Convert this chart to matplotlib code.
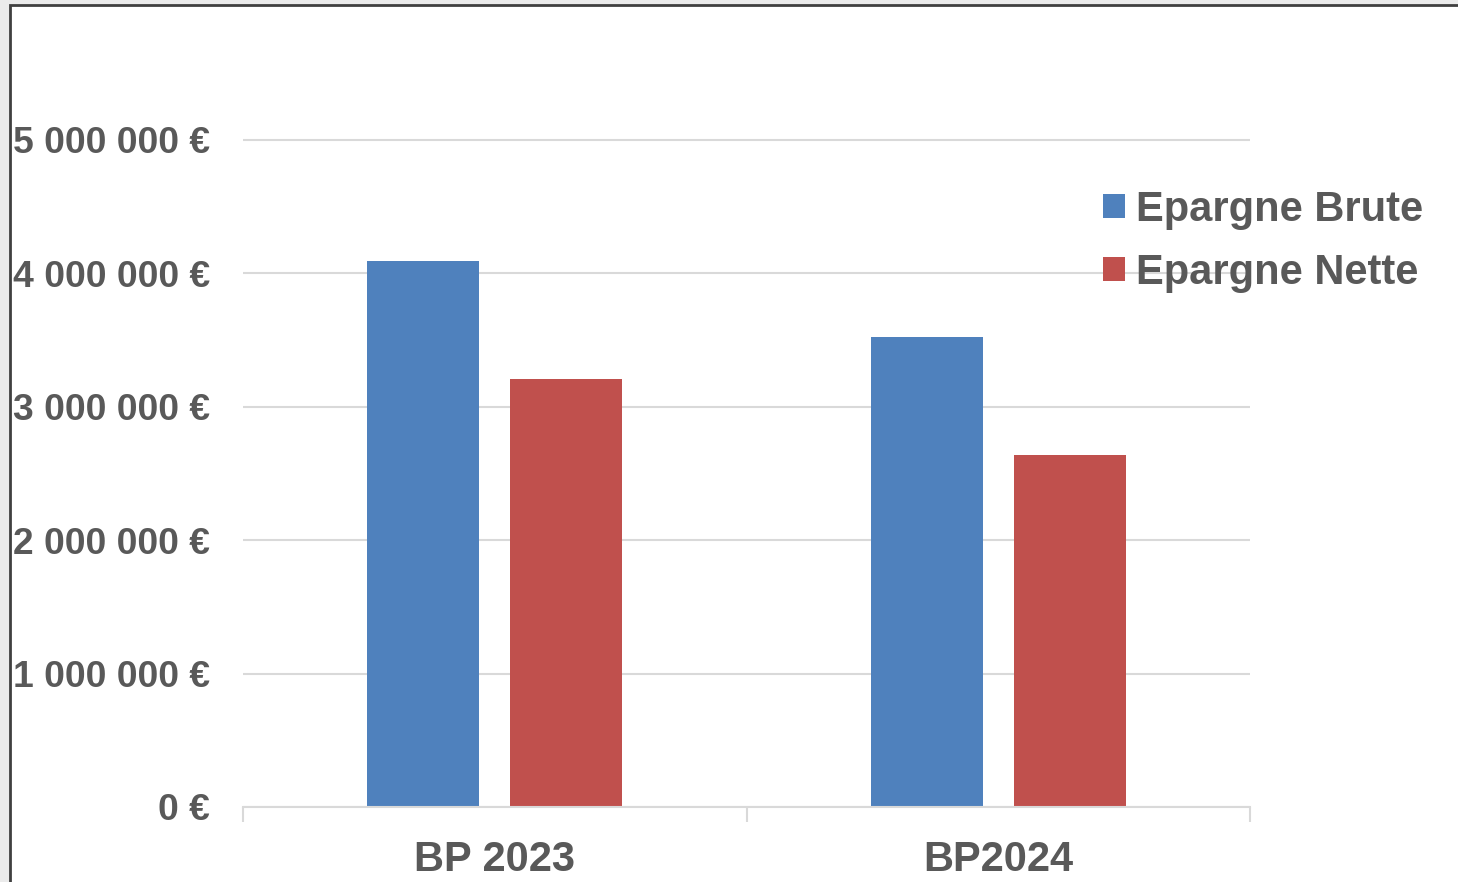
import matplotlib
matplotlib.use("Agg")
import matplotlib.pyplot as plt
from matplotlib.patches import Rectangle
from matplotlib.ticker import FixedLocator, FuncFormatter
import numpy as np

categories = ["BP 2023", "BP2024"]
series_names = ["Epargne Brute", "Epargne Nette"]
epargne_brute = [4_095_000, 3_525_000]
epargne_nette = [3_210_000, 2_635_000]
y_ticks = [0, 1_000_000, 2_000_000, 3_000_000, 4_000_000, 5_000_000]

BLUE = "#4F81BD"
RED = "#C0504D"
TXT = "#595959"
GRID = "#D9D9D9"

plt.rcParams['font.family'] = ['Liberation Sans', 'DejaVu Sans']
plt.rcParams['font.weight'] = 'bold'

W, H = 1458, 882
fig = plt.figure(figsize=(W / 100, H / 100), dpi=100)
fig.patch.set_facecolor("white")

# outer frame
fig.patches.append(Rectangle((0, 0), 1, 1, transform=fig.transFigure,
                             facecolor="#EBEBEB", edgecolor="none", zorder=-2))
fig.patches.append(Rectangle((10 / W, -0.05), 1.1, 1 - 5 / H + 0.05,
                             transform=fig.transFigure, facecolor="white",
                             edgecolor="#404040", lw=2, zorder=-1))

ax_left, ax_right, ax_bottom = 243, 1250, 807
ymax = 5_500_000
px_per_unit = 133.4 / 1_000_000
ax_top = ax_bottom - ymax * px_per_unit
ax = fig.add_axes([ax_left / W, 1 - ax_bottom / H,
                   (ax_right - ax_left) / W, (ax_bottom - ax_top) / H])
ax.set_facecolor("none")

x = np.arange(len(categories))
w = 0.2225
off = 0.142
ax.bar(x - off, epargne_brute, w, color=BLUE, label=series_names[0], zorder=3)
ax.bar(x + off, epargne_nette, w, color=RED, label=series_names[1], zorder=3)

ax.set_xlim(-0.5, len(categories) - 0.5)
ax.set_ylim(0, ymax)

for s in ["top", "right", "left"]:
    ax.spines[s].set_visible(False)
ax.spines["bottom"].set_color(GRID)
ax.spines["bottom"].set_linewidth(1.5)
ax.spines["bottom"].set_zorder(4)

ax.yaxis.set_major_locator(FixedLocator(y_ticks))
ax.yaxis.set_major_formatter(FuncFormatter(
    lambda v, p: f"{int(v):,}".replace(",", " ") + " €"))
ax.tick_params(axis="y", length=0, pad=24, labelsize=26.8, labelcolor=TXT)
ax.grid(axis="y", color=GRID, lw=1.5, zorder=1)

ax.set_xticks(x)
ax.set_xticklabels(categories)
ax.tick_params(axis="x", which="major", length=0, pad=24, labelsize=30, labelcolor=TXT)
ax.set_xticks(np.arange(len(categories) + 1) - 0.5, minor=True)
ax.tick_params(axis="x", which="minor", length=11, width=1.5, color=GRID, direction="out")

for t in ax.get_yticklabels() + ax.get_xticklabels():
    t.set_fontweight("bold")

fs_px = 30 * 100 / 72
leg = fig.legend(loc="upper left", bbox_to_anchor=(1103 / W, 1 - 190 / H),
                 frameon=False, fontsize=30, borderpad=0, borderaxespad=0,
                 handlelength=22 / fs_px, handleheight=22 / fs_px,
                 handletextpad=11 / fs_px, labelspacing=0.55)
for t in leg.get_texts():
    t.set_color(TXT)
    t.set_fontweight("bold")

fig.savefig("out.png", dpi=100)
